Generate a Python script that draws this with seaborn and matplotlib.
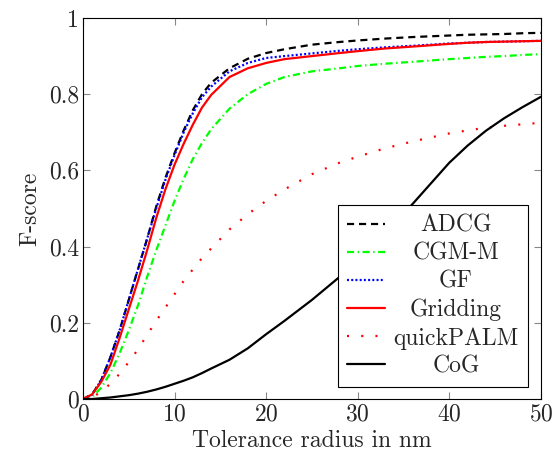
import numpy as np
import pandas as pd
import matplotlib
matplotlib.use("Agg")
import matplotlib.pyplot as plt
import seaborn as sns
from matplotlib.ticker import FuncFormatter

# tolerance radius (nm)
radius = [0, 1, 2, 3, 4, 5, 6, 7, 8, 9, 10, 11, 12, 13, 14, 16, 18, 20,
          22, 25, 28, 30, 33, 36, 40, 42, 44, 46, 48, 50]

adcg = [0, 0.012, 0.05, 0.11, 0.18, 0.26, 0.34, 0.42, 0.505, 0.58, 0.645,
        0.705, 0.758, 0.8, 0.83, 0.868, 0.893, 0.908, 0.918, 0.93, 0.937,
        0.941, 0.946, 0.95, 0.954, 0.956, 0.957, 0.958, 0.96, 0.961]
cgm_m = [0, 0.005, 0.03, 0.068, 0.12, 0.18, 0.245, 0.32, 0.39, 0.455, 0.52,
         0.578, 0.63, 0.672, 0.708, 0.762, 0.8, 0.827, 0.845, 0.86, 0.868,
         0.874, 0.88, 0.885, 0.892, 0.895, 0.898, 0.9, 0.903, 0.905]
gf = [0, 0.012, 0.05, 0.11, 0.18, 0.26, 0.34, 0.42, 0.5, 0.575, 0.64,
      0.7, 0.75, 0.792, 0.82, 0.86, 0.882, 0.895, 0.9, 0.907, 0.914,
      0.918, 0.923, 0.927, 0.933, 0.935, 0.937, 0.938, 0.939, 0.94]
gridding = [0, 0.012, 0.045, 0.09, 0.16, 0.235, 0.31, 0.39, 0.475, 0.55,
            0.615, 0.67, 0.72, 0.765, 0.798, 0.845, 0.868, 0.882, 0.892, 0.9,
            0.908, 0.913, 0.92, 0.925, 0.932, 0.935, 0.937, 0.938, 0.939,
            0.94]
quickpalm = [0, 0.003, 0.02, 0.04, 0.066, 0.097, 0.13, 0.168, 0.205, 0.24,
             0.275, 0.31, 0.34, 0.37, 0.395, 0.445, 0.485, 0.52, 0.55, 0.59,
             0.62, 0.636, 0.658, 0.676, 0.697, 0.705, 0.712, 0.717, 0.721,
             0.725]
cog = [0, 0, 0.002, 0.004, 0.007, 0.01, 0.014, 0.019, 0.025, 0.032, 0.04,
       0.048, 0.057, 0.068, 0.08, 0.103, 0.133, 0.17, 0.205, 0.26, 0.32,
       0.365, 0.435, 0.512, 0.62, 0.665, 0.704, 0.737, 0.766, 0.793]

methods = ["ADCG", "CGM-M", "GF", "Gridding", "quickPALM", "CoG"]
series = [adcg, cgm_m, gf, gridding, quickpalm, cog]
colors = {"ADCG": "black", "CGM-M": "#00ff00", "GF": "blue",
          "Gridding": "red", "quickPALM": "red", "CoG": "black"}
dashes = {"ADCG": (3.2, 2.2), "CGM-M": (3.2, 1.6, 0.6, 1.6), "GF": (0.9, 1.0),
          "Gridding": "", "quickPALM": (0.9, 5.5), "CoG": ""}

df = pd.DataFrame({
    "radius": np.tile(radius, len(methods)),
    "fscore": np.concatenate(series),
    "method": np.repeat(methods, len(radius)),
})

sns.set_style("ticks")
plt.rcParams["font.family"] = "serif"
plt.rcParams["font.serif"] = ["cmr10", "DejaVu Serif"]
plt.rcParams["mathtext.fontset"] = "cm"
plt.rcParams["axes.formatter.use_mathtext"] = True
fs = 17

fig = plt.figure(figsize=(5.53, 4.59), dpi=100)
ax = fig.add_axes([0.150, 0.1307, 0.828, 0.8301])

sns.lineplot(data=df, x="radius", y="fscore", hue="method", style="method",
             hue_order=methods, style_order=methods, palette=colors,
             dashes=dashes, linewidth=1.6, errorbar=None, sort=False, ax=ax)

ax.set_xlim(0, 50)
ax.set_ylim(0, 1)
ax.set_xticks([0, 10, 20, 30, 40, 50])
ax.set_yticks([0, 0.2, 0.4, 0.6, 0.8, 1])
ax.yaxis.set_major_formatter(FuncFormatter(lambda v, p: f"{v:g}"))
ax.tick_params(direction="in", length=5, width=0.8, color="#888888",
               top=True, right=True, labelsize=fs, pad=3)
for s in ax.spines.values():
    s.set_color("black")
    s.set_linewidth(0.8)
ax.set_xlabel("Tolerance radius in nm", fontsize=fs, labelpad=3)
ax.set_ylabel("F-score", fontsize=fs, labelpad=5)

handles, labels = ax.get_legend_handles_labels()
leg = ax.legend(handles, labels, loc="lower right",
                bbox_to_anchor=(0.972, 0.031), fontsize=fs,
                frameon=True, fancybox=False, framealpha=1,
                edgecolor="black", handlelength=1.6, labelspacing=0.25,
                borderpad=0.4, handletextpad=0.35, borderaxespad=0)
leg.get_frame().set_linewidth(0.8)

# center legend entries like pgfplots does
fig.canvas.draw()
texts = leg.get_texts()
widths = [t.get_window_extent().width for t in texts]
wmax = max(widths)
for t, w in zip(texts, widths):
    t.set_position(((wmax - w) / 2, 0))

fig.savefig("out.png", dpi=100)
